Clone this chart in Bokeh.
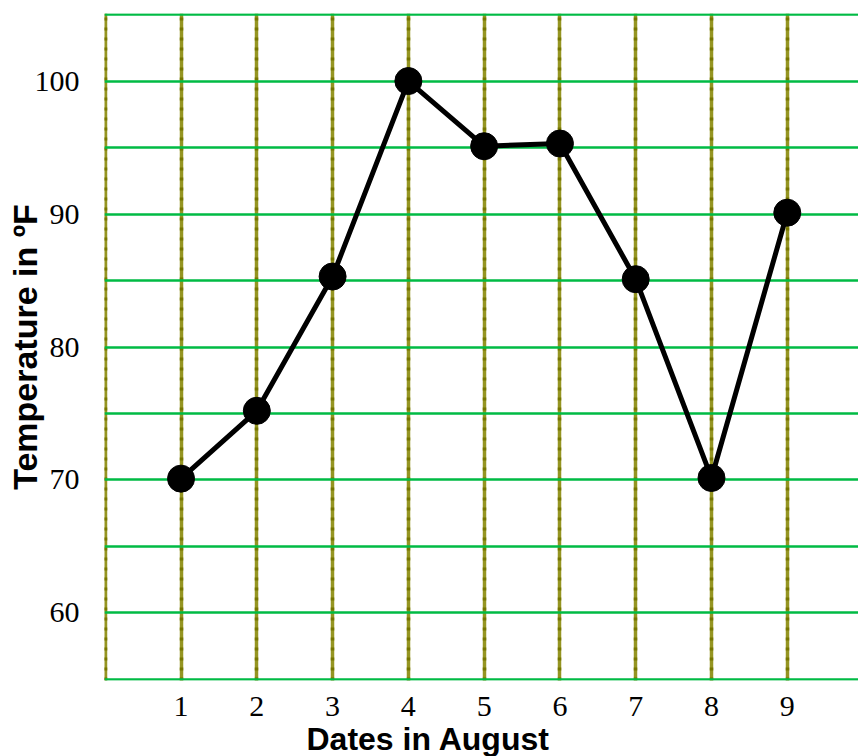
from bokeh.plotting import figure
from bokeh.models import FixedTicker, Grid, Range1d, Title
from bokeh.embed import file_html
from bokeh.resources import INLINE

dates = [1, 2, 3, 4, 5, 6, 7, 8, 9]
temps = [70.1, 75.2, 85.3, 100, 95.1, 95.3, 85.1, 70.15, 90.1]
x_ticks = [1, 2, 3, 4, 5, 6, 7, 8, 9]
y_ticks = [60, 70, 80, 90, 100]
v_grid = [0, 1, 2, 3, 4, 5, 6, 7, 8, 9]
h_grid = [55, 60, 65, 70, 75, 80, 85, 90, 95, 100, 105]
x_title = "Dates in August"
y_title = "Temperature in ºF"

p = figure(width=858, height=756, output_backend="svg", toolbar_location=None,
           x_range=Range1d(-0.01, 9.94), y_range=Range1d(54.92, 105.08),
           min_border_left=104, min_border_right=0, min_border_top=13, min_border_bottom=73)
p.outline_line_color = None
p.grid.visible = False

for ax in (p.xaxis, p.yaxis):
    ax.axis_line_color = None
    ax.major_tick_line_color = None
    ax.minor_tick_line_color = None
    ax.major_label_text_font = "Liberation Serif"
    ax.major_label_text_font_size = "30px"
    ax.major_label_text_color = "black"
p.xaxis.ticker = FixedTicker(ticks=x_ticks)
p.yaxis.ticker = FixedTicker(ticks=y_ticks)
p.xaxis.major_label_standoff = 10
p.yaxis.major_label_standoff = 19

p.yaxis.axis_label = y_title
p.yaxis.axis_label_standoff = -12
p.yaxis.axis_label_text_font = "Liberation Sans"
p.yaxis.axis_label_text_font_style = "bold"
p.yaxis.axis_label_text_font_size = "34px"
p.yaxis.axis_label_text_color = "black"

p.add_layout(Title(text=x_title, align="left", offset=202, standoff=0,
                   text_font="Liberation Sans", text_font_style="bold",
                   text_font_size="32px", text_color="black"), "below")

g1 = Grid(dimension=0, ticker=FixedTicker(ticks=v_grid), grid_line_color="#959522", grid_line_width=3.5)
g2 = Grid(dimension=0, ticker=FixedTicker(ticks=v_grid), grid_line_color="#767600", grid_line_width=3.5,
          grid_line_dash="3 7")
g3 = Grid(dimension=1, ticker=FixedTicker(ticks=h_grid), grid_line_color="#00bb44", grid_line_width=2.6)
for g in (g1, g2, g3):
    p.add_layout(g)

p.line(dates, temps, line_color="black", line_width=5)
p.scatter(dates, temps, size=27, fill_color="black", line_color="black")

open("out.html", "w").write(file_html(p, INLINE))
